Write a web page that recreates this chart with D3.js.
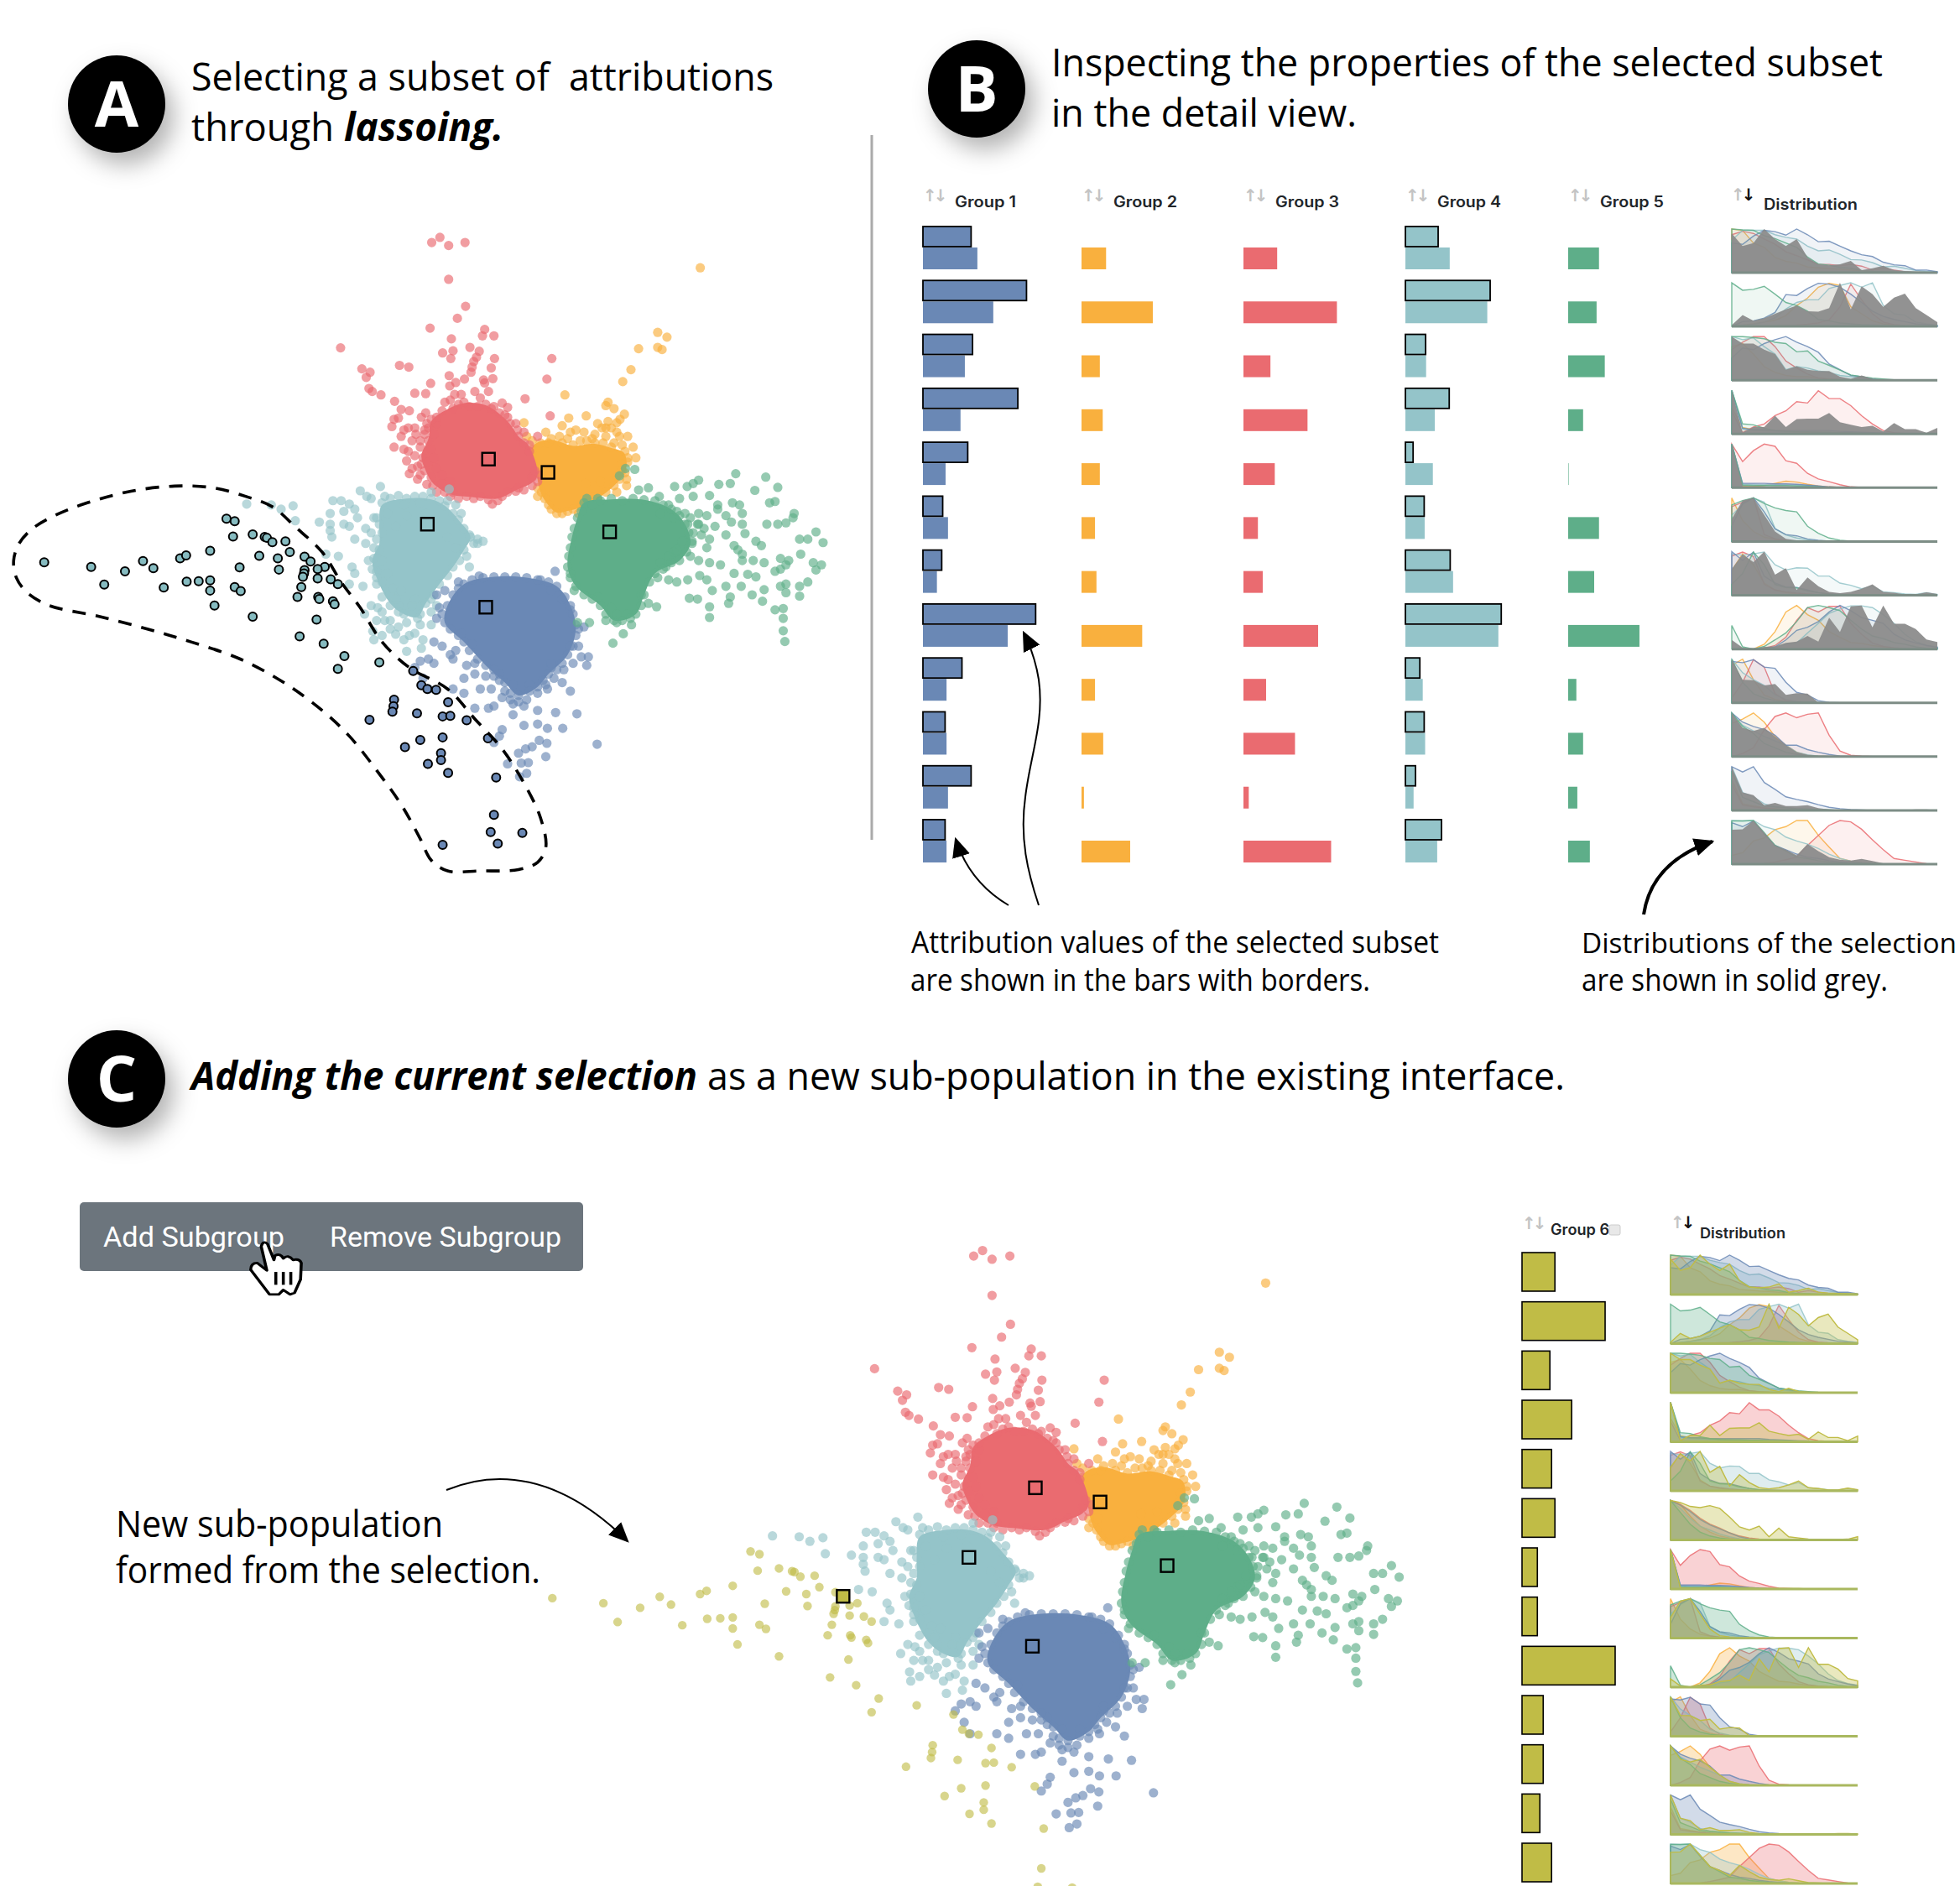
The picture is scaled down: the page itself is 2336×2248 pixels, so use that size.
<!DOCTYPE html>
<html>
<head>
<meta charset="utf-8">
<script src="https://cdn.jsdelivr.net/npm/d3@7"></script>
<style>
  body { margin: 0; background: #fff; }
  svg { display: block; }
  text { font-family: "Open Sans", sans-serif; fill: #000; white-space: pre; }
  .ui { font-family: Inter, sans-serif; font-weight: 600; fill: #212529; }
</style>
</head>
<body>
<script>
// embedding coordinates
const redDots = [[791,57],[806,45],[822,64],[852,57],[822,143],[853,206],[838,234],[788,257],[827,282],[884,275],[888,260],[905,275],[624,303],[811,315],[830,310],[861,302],[826,328],[878,311],[873,325],[906,328],[868,335],[865,348],[900,350],[663,352],[678,360],[732,344],[749,348],[863,360],[671,372],[823,368],[676,398],[682,405],[698,413],[789,386],[824,392],[851,376],[886,378],[903,375],[888,385],[835,384],[760,409],[780,410],[845,412],[833,412],[870,405],[895,405],[880,420],[962,422],[1011,328],[1002,376],[723,428],[920,432],[930,442],[1008,462],[735,447],[750,450],[722,470],[730,467],[718,487],[772,465],[780,455],[815,430],[825,425],[760,490],[740,495],[735,510],[722,535],[740,540],[745,567],[750,597],[770,600],[782,622],[770,520],[755,520],[785,490],[800,480],[810,620],[830,640],[855,650],[880,650],[902,668],[920,650],[950,630],[975,625],[985,510],[945,480],[960,500],[970,545],[775,560],[765,580],[790,605],[840,435],[860,440],[900,445],[930,465],
  [748,490],[762,505],[778,505],[770,535],[785,520],[795,505],[748,545],[760,555],[772,575],[785,570],[755,585],[778,590],[765,610],[793,625],[800,640],[815,640],[825,650],[840,655],[868,655],[895,658],[912,660],[930,640],[945,638],[960,635],[985,615],[975,605],[980,590],[990,600],[970,530],[960,525],[950,510],[948,495],[935,480],[925,460],[915,455],[905,440],[890,435],[875,440],[850,430],[830,445],[810,450],[800,465],[790,470],[782,480],[778,495],[790,540],[795,560],[800,585],[810,600],[825,615]];
const orangeDots = [[1283,116],[1205,267],[1222,278],[1170,305],[1205,302],[1213,307],[1156,354],[1141,382],[1035,413],[1114,430],[1110,438],[1125,445],[1144,458],[1042,467],[1074,462],[1114,475],[1130,478],[1136,470],[1103,490],[960,478],[965,510],[1000,500],[1030,485],[1055,495],[1090,505],[1025,510],[1063,520],[1110,510],[1130,500],[1150,510],[1160,535],[1165,560],[1150,570],[1148,610],[1140,590],[1148,625],[985,650],[998,655],[1010,680],[1030,690],[1060,690],[1130,640],[1100,615],[1073,620],[1090,650],[1070,500],[1040,515],[1125,525],[1005,525],
  [975,520],[990,525],[1010,515],[1030,525],[1050,530],[1045,500],[1075,520],[1090,525],[1105,525],[1120,535],[1140,530],[1145,545],[1150,560],[1140,575],[1145,595],[1135,610],[1125,625],[1110,640],[1095,655],[1080,665],[1065,675],[1050,680],[1040,685],[1020,690],[1005,670],[992,640],[1000,630],[985,630],[975,540],[968,560],[978,585],[1110,490],[1095,480],[1120,490],[1135,510],[1085,515]];
const tealDots = [[452,668],[537,672],[515,680],[497,670],[541,707],[585,710],[660,637],[697,627],[672,650],[610,660],[625,660],[640,668],[605,690],[630,685],[650,680],[680,655],[705,650],[655,700],[605,715],[630,715],[605,730],[608,745],[640,720],[670,725],[690,700],[680,735],[650,750],[860,740],[875,750],[885,755],[835,670],[845,690],[820,660],[790,640],[823,633],[760,650],[775,650],[597,785],[620,790],[645,815],[650,830],[640,855],[665,860],[690,855],[680,905],[668,925],[692,910],[705,940],[715,940],[683,965],[700,975],[725,972],[685,985],[750,975],[775,985],[745,1012],[772,1005],[745,945],[770,925],[790,920],[800,905],[770,950],[860,815],[855,790],[875,760],[730,905],[700,885],[715,880],[730,920],[790,950],[720,865],[685,770],[675,800],[690,825],[670,760],
  [700,665],[715,655],[730,648],[745,655],[790,655],[805,660],[815,672],[830,690],[840,705],[850,725],[862,745],[868,760],[850,775],[842,800],[830,815],[820,835],[805,855],[795,880],[780,900],[790,890],[765,935],[755,920],[740,925],[725,890],[715,905],[700,850],[690,840],[682,820],[685,795],[695,775],[690,750],[700,735],[695,715],[685,700],[710,690],[725,720],[740,670],[770,665],[780,690],[745,695],[820,745],[835,770],[700,800],[710,830],[735,870],[760,890],[755,905],[700,920],[730,955],[740,985],[760,970],[715,960],[690,940]];
const blueDots = [[1017,825],[878,836],[840,850],[805,910],[800,935],[795,990],[810,1000],[835,1010],[825,1020],[770,1035],[785,1030],[795,1040],[855,1045],[830,1030],[870,1040],[905,1070],[850,1075],[870,1065],[890,1070],[1060,1000],[1065,1025],[1078,1025],[1075,1045],[1050,1040],[1033,1055],[1015,1075],[1030,1085],[1045,1105],[900,1100],[880,1100],[850,1110],[870,1145],[895,1145],[905,1140],[935,1125],[925,1105],[1003,1100],[985,1110],[960,1140],[985,1150],[1018,1155],[1057,1158],[940,1160],[960,1185],[985,1182],[1003,1192],[1031,1192],[920,1195],[905,1225],[915,1210],[988,1220],[1002,1227],[975,1235],[963,1240],[950,1250],[1000,1258],[1094,1229],[930,1275],[955,1273],[968,1272],[952,1305],[965,1297],[775,1075],[760,1050],[830,1100],[785,1100],[1060,960],[1045,915],[1030,890],[1050,1000],[1070,955],[815,870],[800,880],[990,845],[1010,870],[940,1090],[970,1090],[1010,1050],
  [850,855],[865,845],[885,840],[905,838],[925,838],[945,838],[965,840],[985,845],[1005,850],[1020,860],[1035,885],[1045,905],[1050,925],[1055,950],[1055,975],[1045,1000],[1040,1020],[1030,1040],[1020,1055],[1005,1065],[995,1080],[985,1095],[970,1105],[950,1115],[935,1110],[925,1085],[915,1065],[905,1055],[890,1045],[875,1030],[860,1010],[850,990],[840,975],[825,960],[815,945],[810,925],[820,905],[830,880],[840,865],[845,970],[865,995],[950,1130],[965,1125],[940,1135],[915,1080],[1000,1090],[920,1120],[1010,1040]];
const greenDots = [[1348,597],[1403,605],[1280,612],[1236,627],[1259,627],[1270,620],[1317,622],[1338,620],[1383,636],[1425,629],[1146,585],[1163,587],[1135,602],[1170,635],[1188,630],[1208,650],[1245,655],[1270,650],[1300,648],[1355,670],[1410,665],[1420,662],[1342,665],[1315,670],[1255,690],[1280,690],[1295,695],[1330,695],[1360,690],[1455,690],[1340,710],[1360,715],[1405,715],[1425,715],[1440,712],[1453,700],[1315,680],[1278,715],[1290,725],[1310,720],[1495,733],[1465,750],[1480,750],[1508,758],[1330,740],[1300,750],[1365,737],[1385,755],[1395,765],[1345,765],[1352,775],[1360,785],[1295,770],[1268,755],[1265,790],[1280,800],[1300,805],[1320,810],[1360,800],[1380,800],[1400,805],[1430,795],[1445,800],[1440,810],[1467,785],[1490,805],[1505,810],[1495,822],[1430,820],[1420,825],[1345,830],[1370,832],[1385,838],[1295,845],[1260,845],[1240,850],[1282,835],[1305,870],[1330,860],[1358,860],[1400,868],[1430,860],[1440,855],[1465,860],[1480,850],[1378,880],[1440,875],[1465,883],[1397,895],[1420,915],[1435,912],[1263,888],[1278,890],[1300,908],[1338,885],[1335,900],[1300,933],[1435,935],[1435,964],[1438,989],[1203,908],[1188,900],[1175,880],[1205,840],[1225,845],[1142,971],[1123,993],[1058,945],[1080,945],[1157,950],[1052,870],[1045,830],[1075,655],[1095,655],[1210,690],[1235,700],[1260,715],[1235,780],[1220,815],[1130,945],[1110,940],
  [1070,665],[1085,670],[1100,660],[1120,655],[1140,660],[1160,655],[1180,658],[1200,660],[1215,670],[1230,680],[1245,695],[1255,715],[1262,735],[1268,760],[1258,780],[1245,800],[1230,805],[1215,820],[1200,830],[1190,850],[1180,880],[1175,905],[1165,925],[1155,935],[1140,940],[1125,940],[1110,925],[1100,905],[1085,890],[1070,880],[1055,860],[1045,840],[1040,815],[1042,790],[1045,770],[1048,745],[1052,725],[1058,700],[1065,685],[1130,925],[1150,925],[1120,910],[1095,885],[1210,805],[1225,790],[1240,775],[1250,755],[1265,700],[1280,715],[1285,740],[1270,735],[1240,685],[1225,670]];

// the inner parts of the clusters are solid, single dots cannot be told apart there
const redCore = [[790,475],[812,452],[850,432],[890,437],[915,457],[935,482],[950,510],[968,530],[985,600],[975,618],[945,636],[912,655],[868,652],[825,645],[795,622],[780,590],[772,555],[785,515]];
const orangeCore = [[978,530],[1010,518],[1050,532],[1090,527],[1120,537],[1143,548],[1148,575],[1143,600],[1125,625],[1095,655],[1065,675],[1040,684],[1020,688],[1003,668],[990,640],[983,600],[972,560]];
const tealCore = [[700,670],[745,655],[790,657],[815,672],[840,705],[862,745],[850,775],[830,815],[805,855],[780,900],[765,932],[740,925],[715,900],[690,840],[682,800],[695,760],[695,715]];
const blueCore = [[850,855],[905,838],[965,840],[1020,860],[1045,905],[1055,960],[1040,1020],[1005,1065],[985,1095],[950,1115],[925,1085],[890,1045],[850,990],[815,945],[820,905]];
const greenCore = [[1070,665],[1120,657],[1180,658],[1230,680],[1255,715],[1265,760],[1245,800],[1200,830],[1180,880],[1165,925],[1125,940],[1100,905],[1055,860],[1040,815],[1048,745],[1058,700]];

const lassoTeal = [[81,804],[167,815],[229,825],[191,856],[262,801],[281,818],[300,863],[330,795],[341,788],[385,777],[342,849],[364,848],[385,846],[385,870],[430,862],[441,871],[393,905],[463,931],[415,702],[430,708],[427,744],[463,739],[485,745],[489,747],[499,757],[523,755],[531,780],[475,789],[509,795],[511,821],[439,816],[558,791],[569,802],[595,815],[582,820],[558,822],[557,830],[555,838],[582,842],[606,844],[619,855],[552,862],[545,885],[583,885],[585,890],[610,895],[613,902],[580,938],[549,977],[593,994],[631,1023],[619,1053],[695,1038]];
const lassoBlue = [[757,1058],[772,1091],[783,1100],[799,1102],[722,1125],[721,1140],[719,1153],[821,1131],[764,1157],[677,1172],[811,1164],[825,1163],[855,1173],[894,1215],[811,1213],[770,1219],[742,1236],[808,1250],[808,1266],[784,1275],[821,1296],[909,1307],[905,1394],[899,1434],[957,1436],[912,1461],[811,1464]];
const lassoPath = [[25,800],[35,760],[60,725],[100,695],[160,665],[240,638],[320,626],[390,630],[450,650],[500,675],[540,720],[590,780],[625,850],[660,910],[700,990],[750,1050],[820,1100],[870,1170],[920,1240],[960,1320],[990,1400],[1000,1470],[985,1505],[950,1522],[880,1525],[820,1525],[790,1500],[770,1450],[735,1370],[690,1290],[640,1210],[590,1150],[520,1085],[440,1030],[350,990],[270,960],[180,930],[90,905],[50,875],[30,840]];

const centers = { orange: [1004,594], red: [895,563], teal: [783,715], blue: [890,909], green: [1117,733] };
const selectionCenter = [571,800];

// attribution bars, panel B
const groupNames = ['Group 1','Group 2','Group 3','Group 4','Group 5'];
const group1Selected = [100,215,103,197,93,41,39,234,81,46,100,46];
const group1Base = [113,146,87,78,47,52,29,176,49,49,52,49];
const group2Base = [51,148,38,44,38,28,31,126,28,45,5,101];
const group3Base = [70,194,56,133,65,30,40,155,47,107,11,182];
const group4Selected = [68,176,42,91,16,39,93,199,30,39,21,75];
const group4Base = [92,170,43,61,57,40,99,193,36,41,17,66];
const group5Base = [64,59,76,31,1,64,54,148,17,31,19,45];
// Group 6, panel C
const group6Base = [118,298,100,178,106,118,55,55,334,76,76,64,106];

// distributions, 20 bins per row, height in percent, missing tail = 0. Row 13 only shows in panel C
const blueDist = [
  [68,65,84,97,94,86,100,87,71,72,61,50,41,37,24,18,16,6,6,2],
  [0,11,13,19,32,73,71,87,99,97,90,74,55,35,23,16,11,6,4,2],
  [51,74,70,84,93,100,87,77,64,37,24,11,8,3,1],
  [100,13,10,10,8,8,8,8,8,8,6,5,4,3,2,1],
  [100,10,10,10,9,9,8,6,4,2,1],
  [35,87,100,68,29,16,13,6,3,1],
  [100,80,99,44,28,19,18,12,6,3,2,1],
  [0,0,0,1,5,21,43,50,63,85,100,88,72,66,59,34,21,14,8,4],
  [95,92,99,82,79,47,24,18,5,1],
  [100,79,69,62,49,26,26,16,10,5,1],
  [100,88,100,64,48,31,25,20,13,7,4,2,1],
  [95,86,99,69,43,33,23,16,13,8,5,3,1],
  [100,88,72,52,38,28,18,8,3,1]
];
const tealDist = [
  [74,97,97,97,87,81,77,61,50,52,42,30,29,23,13,15,10,5,3,1],
  [0,3,5,10,20,40,55,61,61,87,94,100,90,100,48,29,26,10,6,3],
  [100,93,97,77,60,24,31,28,21,18,11,8,5,2],
  [100,12,8,7,6,5,5,5,4,4,3,2,2,1],
  [100,8,8,7,7,7,6,5,3,1],
  [60,85,100,90,30,15,8,4,1],
  [95,92,95,99,70,58,63,62,44,44,28,23,15,21,8,6,3,2,6,2],
  [0,0,0,1,2,11,14,37,59,82,92,99,99,95,79,59,34,17,9,5],
  [100,69,53,40,18,8,3,1],
  [100,72,59,46,36,26,10,4,1],
  [100,41,31,15,8,6,4,3,2,1],
  [100,99,100,86,79,62,53,46,36,23,13,7,3,1],
  [100,80,55,35,25,15,8,3,1]
];
const greenDist = [
  [100,98,97,85,78,68,58,36,20,17,12,10,5,3,2,1],
  [100,83,85,92,74,55,48,35,16,13,8,6,4,3,2,1],
  [100,100,98,95,87,84,65,67,44,34,23,12,8,5,3,1],
  [100,23,21,13,8,6,5,5,4,4,3,3,2,1],
  [100,6,5,5,5,5,4,3,2,1],
  [84,94,100,87,77,71,68,35,19,8,3,1],
  [25,50,99,70,25,18,17,10,6,3,1],
  [54,5,0,6,21,37,63,95,100,95,88,66,46,30,24,15,11,5,2,1],
  [100,47,21,11,5,2,1],
  [100,69,53,30,20,10,5,2],
  [90,30,20,10,8,6,4,3,2,1],
  [99,99,100,72,43,30,16,13,8,5,3,1],
  [100,70,40,20,10,5,2,1]
];
const orangeDist = [
  [100,97,68,58,35,26,22,13,11,9,8,6,4,2,1],
  [0,3,6,10,14,25,48,65,90,99,94,45,29,13,6,3,1],
  [77,84,60,31,18,11,8,8,5,3,1],
  [60,15,10,8,7,6,5,4,4,3,3,2,2,1],
  [100,3,3,5,10,15,13,8,4,2,1],
  [100,48,23,10,5,2,1],
  [57,95,70,28,12,6,3,2,1],
  [0,0,0,11,40,85,100,79,66,40,27,15,13,8,5,2,1],
  [86,100,53,18,8,3,1],
  [76,86,100,79,46,26,10,3,1],
  [70,15,10,6,4,2,1],
  [20,26,53,60,79,86,100,100,66,39,13,7,3,1],
  [100,90,60,35,20,10,5,2,1]
];
const redDist = [
  [87,95,90,77,65,48,39,29,19,19,16,19,15,6,10,6,2],
  [0,0,1,1,1,2,3,5,8,15,45,97,61,29,10,4,2,1],
  [70,87,100,100,77,44,28,14,5,2,1],
  [52,3,16,23,42,53,74,71,99,81,81,65,42,23,8,3,1],
  [100,60,85,100,95,62,56,33,20,14,7,2,1],
  [80,90,100,16,6,2,1],
  [90,99,89,25,12,8,5,3,1],
  [0,0,0,2,8,27,66,95,85,98,98,59,34,14,6,3,1],
  [11,47,99,82,21,5,1],
  [0,7,20,62,92,100,89,97,100,49,13,3,1],
  [60,12,8,5,3,2,1],
  [0,0,0,1,5,10,16,43,66,89,100,97,80,56,33,13,9,5,1],
  [100,90,75,55,40,30,18,10,5,2,1]
];
const selectionDist = [
  [90,61,68,100,77,61,77,35,19,17,19,27,6,10,16,6,4,3,2,1],
  [3,26,13,19,29,39,48,35,34,42,100,39,92,74,45,66,75,42,26,10],
  [100,84,84,70,60,24,32,24,21,21,8,3,11,3,1],
  [100,3,16,16,42,16,34,35,35,48,27,21,16,19,6,25,11,11,3,14],
  [100,3,2,2,3,3,2,2,2,1,1,1,1,1],
  [52,94,100,61,23,6,3,1],
  [60,94,76,100,47,62,12,41,21,8,5,8,15,25,8,6,2,2,7,3],
  [21,3,0,5,6,14,17,30,17,72,39,98,100,50,100,58,58,46,22,16],
  [100,53,52,40,43,18,22,21,1],
  [100,66,59,66,46,26,10,4,1],
  [100,41,35,12,17,10,10,12,5,2,1,1,1,1,1,1,1,2,2,1],
  [79,80,100,72,43,33,20,46,30,16,10,8,12,7,2,1],
  [100,95,85,82,87,80,58,33,25,35,8,30,8,5,2,1,1,1,2,8]
];
const panelCRows = [0,1,2,3,6,12,4,5,7,8,9,10,11];

const colors = { blue: '#6a88b5', teal: '#94c4c9', red: '#ea6b70', orange: '#f9b03e', green: '#5eae89', olive: '#c0bc46' };
const dotGroups = [
  ['orange', orangeDots, orangeCore],
  ['red', redDots, redCore],
  ['teal', tealDots, tealCore],
  ['blue', blueDots, blueCore],
  ['green', greenDots, greenCore]
];
const distSeries = [['orange', orangeDist], ['red', redDist], ['teal', tealDist], ['blue', blueDist], ['green', greenDist]];
const bins = d3.range(20);

const svg = d3.select('body').append('svg').attr('width', 2336).attr('height', 2248);

const defs = svg.append('defs');
defs.append('filter').attr('id', 'shadow')
  .attr('x', '-50%').attr('y', '-50%').attr('width', '220%').attr('height', '220%')
  .append('feDropShadow')
  .attr('dx', 10).attr('dy', 14).attr('stdDeviation', 14)
  .attr('flood-color', '#000').attr('flood-opacity', 0.3);
defs.append('marker').attr('id', 'head')
  .attr('viewBox', '0 0 10 10').attr('refX', 9).attr('refY', 5)
  .attr('markerUnits', 'userSpaceOnUse')
  .attr('markerWidth', 24).attr('markerHeight', 24).attr('orient', 'auto')
  .append('path').attr('d', 'M0,0.5 L10,5 L0,9.5 Z').attr('fill', '#000');

// text fitted to the width it has in the reference
const label = (parent, str, x1, x2, y, size, weight, italic) => parent.append('text')
  .attr('x', x1).attr('y', y)
  .attr('textLength', x2 - x1).attr('lengthAdjust', 'spacingAndGlyphs')
  .attr('font-size', size)
  .attr('font-weight', weight || 400)
  .attr('font-style', italic ? 'italic' : 'normal')
  .text(str);

const badge = (letter, cx, cy) => {
  svg.append('circle').attr('cx', cx).attr('cy', cy).attr('r', 58)
    .attr('fill', '#000').attr('filter', 'url(#shadow)');
  svg.append('text').attr('x', cx).attr('y', cy + 27)
    .attr('text-anchor', 'middle').attr('font-size', 76).attr('font-weight', 700)
    .style('fill', '#fff').text(letter);
};

badge('A', 139, 124);
badge('B', 1164, 106);
badge('C', 139, 1286);

label(svg, 'Selecting a subset of  attributions', 228, 922, 108, 46);
label(svg, 'through', 228, 398, 168, 46);
label(svg, 'lassoing.', 410, 600, 168, 46, 700, true);
label(svg, 'Inspecting the properties of the selected subset', 1253, 2244, 91, 46);
label(svg, 'in the detail view.', 1253, 1617, 151, 46);
label(svg, 'Adding the current selection', 228, 831, 1299, 46, 700, true);
label(svg, 'as a new sub-population in the existing interface.', 843, 1865, 1299, 46);

label(svg, 'Attribution values of the selected subset', 1086, 1715, 1136, 36);
label(svg, 'are shown in the bars with borders.', 1085, 1633, 1181, 36);
label(svg, 'Distributions of the selection', 1885, 2332, 1136, 33);
label(svg, 'are shown in solid grey.', 1885, 2250, 1181, 36);
label(svg, 'New sub-population', 138, 528, 1832, 44);
label(svg, 'formed from the selection.', 138, 644, 1887, 44);

svg.append('line').attr('x1', 1039).attr('x2', 1039).attr('y1', 161).attr('y2', 1001)
  .attr('stroke', '#aaa').attr('stroke-width', 3);

// scatter, same embedding in both panels
const drawScatter = (x, y, lassoed) => {
  const g = svg.append('g');
  const blob = d3.line().x(d => x(d[0])).y(d => y(d[1])).curve(d3.curveCatmullRomClosed);
  dotGroups.forEach(([name, dots, core]) => {
    g.append('path').attr('d', blob(core)).attr('fill', colors[name]);
    g.selectAll(null).data(dots).join('circle')
      .attr('cx', d => x(d[0])).attr('cy', d => y(d[1])).attr('r', 5.6)
      .attr('fill', colors[name]).attr('fill-opacity', 0.66);
  });
  if (lassoed) {
    [['teal', lassoTeal], ['blue', lassoBlue]].forEach(([name, dots]) => {
      g.selectAll(null).data(dots).join('circle')
        .attr('cx', d => x(d[0])).attr('cy', d => y(d[1])).attr('r', 5)
        .attr('fill', name === 'teal' ? '#86bbc0' : colors.blue)
        .attr('stroke', '#000').attr('stroke-width', 2);
    });
    g.append('path').attr('d', blob(lassoPath))
      .attr('fill', 'none').attr('stroke', '#000')
      .attr('stroke-width', 3.6).attr('stroke-dasharray', '16 12');
  } else {
    g.selectAll(null).data(lassoTeal.concat(lassoBlue)).join('circle')
      .attr('cx', d => x(d[0])).attr('cy', d => y(d[1])).attr('r', 5.2)
      .attr('fill', colors.olive).attr('fill-opacity', 0.62);
  }
  const squares = dotGroups.map(([name]) => [name, centers[name]]);
  if (!lassoed) squares.push(['olive', selectionCenter]);
  g.selectAll(null).data(squares).join('rect')
    .attr('x', d => x(d[1][0]) - 7.5).attr('y', d => y(d[1][1]) - 7.5)
    .attr('width', 15).attr('height', 15)
    .attr('fill', d => colors[d[0]])
    .attr('stroke', '#000').attr('stroke-width', 2.4);
};

drawScatter(
  d3.scaleLinear().domain([0, 1568]).range([0, 1020]),
  d3.scaleLinear().domain([0, 1568]).range([260, 1060]),
  true
);
drawScatter(
  d3.scaleLinear().domain([0, 1568]).range([601, 1710]),
  d3.scaleLinear().domain([0, 1568]).range([1466, 2322]),
  false
);

// bars in panel B
const barX = d3.scaleLinear().domain([0, 270]).range([0, 155]);
const rowB = d3.scaleLinear().domain([0, 11]).range([270, 977]);
const barColumns = [
  { x: 1100, color: colors.blue, base: group1Base, selected: group1Selected, label: [1138, 1211] },
  { x: 1289, color: colors.orange, base: group2Base, label: [1327, 1403] },
  { x: 1482, color: colors.red, base: group3Base, label: [1520, 1596] },
  { x: 1675, color: colors.teal, base: group4Base, selected: group4Selected, label: [1713, 1789] },
  { x: 1869, color: colors.green, base: group5Base, label: [1907, 1983] }
];

const sortArrows = (x, y, active) => {
  const t = svg.append('text').attr('x', x).attr('y', y)
    .attr('font-size', 20).attr('font-weight', 700).style('font-family', 'DejaVu Sans');
  t.append('tspan').style('fill', '#c4c4c4').text('↑');
  t.append('tspan').attr('dx', -4).style('fill', active ? '#111' : '#c4c4c4').text('↓');
};

barColumns.forEach((col, i) => {
  const g = svg.append('g').attr('transform', `translate(${col.x},0)`);
  g.selectAll(null).data(col.base).join('rect')
    .attr('x', 0).attr('y', (d, r) => rowB(r) + 25)
    .attr('width', d => barX(d)).attr('height', 26)
    .attr('fill', col.color);
  if (col.selected) {
    g.selectAll(null).data(col.selected).join('rect')
      .attr('x', 0).attr('y', (d, r) => rowB(r))
      .attr('width', d => barX(d)).attr('height', 24)
      .attr('fill', col.color)
      .attr('stroke', '#000').attr('stroke-width', 1.8);
  }
  sortArrows(col.x, 240, false);
  label(svg, groupNames[i], col.label[0], col.label[1], 247, 18, 600).attr('class', 'ui');
});

// one row of overlaid distributions
const drawDist = (g, rowIndex, bottom, x, height, selColor, selOpacity, fillOpacity, edge) => {
  const y = d3.scaleLinear().domain([0, 100]).range([bottom, bottom - height]);
  const area = d3.area().x((d, i) => x(i)).y0(bottom).y1(d => y(d));
  const full = row => bins.map(i => row[i] || 0);
  distSeries.forEach(([name, rows]) => {
    g.append('path').datum(full(rows[rowIndex])).attr('d', area)
      .attr('fill', colors[name]).attr('fill-opacity', fillOpacity)
      .attr('stroke', colors[name]).attr('stroke-opacity', 0.85).attr('stroke-width', 1.4);
  });
  g.append('path').datum(full(selectionDist[rowIndex])).attr('d', area)
    .attr('fill', selColor).attr('fill-opacity', selOpacity)
    .attr('stroke', selColor).attr('stroke-width', edge);
  g.append('line').attr('x1', x(0)).attr('x2', x(19)).attr('y1', bottom).attr('y2', bottom)
    .attr('stroke', selColor === '#8a8a8a' ? '#7d8d86' : '#a9b85f').attr('stroke-width', 3);
};

const distB = svg.append('g');
const xB = d3.scaleLinear().domain([0, 19]).range([2064, 2309]);
const bottomB = d3.scaleLinear().domain([0, 11]).range([325, 1030]);
d3.range(12).forEach(r => drawDist(distB, r, bottomB(r), xB, 52, '#8a8a8a', 0.93, 0.1, 0));
sortArrows(2063, 239, true);
label(svg, 'Distribution', 2102, 2214, 250, 18, 600).attr('class', 'ui');

// panel C column
const rowC = d3.scaleLinear().domain([0, 12]).range([1493, 2197]);
const barC = d3.scaleLinear().domain([0, 334]).range([0, 111]);
svg.append('g').selectAll('rect').data(group6Base).join('rect')
  .attr('x', 1814).attr('y', (d, r) => rowC(r))
  .attr('width', d => barC(d)).attr('height', 46)
  .attr('fill', colors.olive).attr('stroke', '#000').attr('stroke-width', 1.6);
sortArrows(1814, 1465, false);
label(svg, 'Group 6', 1848, 1918, 1472, 18, 600).attr('class', 'ui');
svg.append('rect').attr('x', 1918).attr('y', 1460).attr('width', 13).attr('height', 12).attr('rx', 2)
  .attr('fill', '#e8e8e8').attr('stroke', '#ccc');

const distC = svg.append('g');
const xC = d3.scaleLinear().domain([0, 19]).range([1991, 2214]);
const bottomC = d3.scaleLinear().domain([0, 12]).range([1543, 2245]);
panelCRows.forEach((row, r) => drawDist(distC, row, bottomC(r), xC, 47, colors.olive, 0.35, 0.3, 1.4));
sortArrows(1991, 1464, true);
label(svg, 'Distribution', 2026, 2128, 1476, 17, 600).attr('class', 'ui');

// button strip with the cursor on it
svg.append('rect').attr('x', 95).attr('y', 1433).attr('width', 600).attr('height', 82).attr('rx', 5)
  .attr('fill', '#6c757d');
label(svg, 'Add Subgroup', 123, 339, 1486, 34).style('font-family', 'Roboto').style('fill', '#fff');
label(svg, 'Remove Subgroup', 393, 669, 1486, 34).style('font-family', 'Roboto').style('fill', '#fff');
const hand = svg.append('g').attr('transform', 'translate(60,1400) scale(0.4464,0.3571)');
hand.append('path')
  .attr('d', 'M578,320 L563,240 Q568,218 580,232 L597,285 L600,270 Q615,262 622,280 Q635,265 648,285 Q665,280 670,295 L668,350 L652,395 L640,400 L622,385 L610,400 L585,400 L570,375 L535,318 Q535,295 552,295 Z')
  .attr('fill', '#fff').attr('stroke', '#000').attr('stroke-width', 8).attr('stroke-linejoin', 'round');
hand.selectAll('line').data([602, 622, 642]).join('line')
  .attr('x1', d => d).attr('x2', d => d).attr('y1', 325).attr('y2', 368)
  .attr('stroke', '#000').attr('stroke-width', 8);

// annotation arrows
const arrow = (d, w) => {
  svg.append('path').attr('d', d).attr('fill', 'none').attr('stroke', '#000').attr('stroke-width', w)
    .attr('marker-end', 'url(#head)');
};
arrow('M1202,1079 C1170,1060 1150,1035 1139,1000', 2);
arrow('M1238,1079 C1225,1040 1215,1000 1222,950 C1228,900 1245,860 1238,810 C1234,785 1228,770 1220,754', 2);
arrow('M1959,1090 C1965,1050 1990,1020 2041,1003', 4);
arrow('M532,1776 C590,1752 665,1755 748,1837', 2);
</script>
</body>
</html>
